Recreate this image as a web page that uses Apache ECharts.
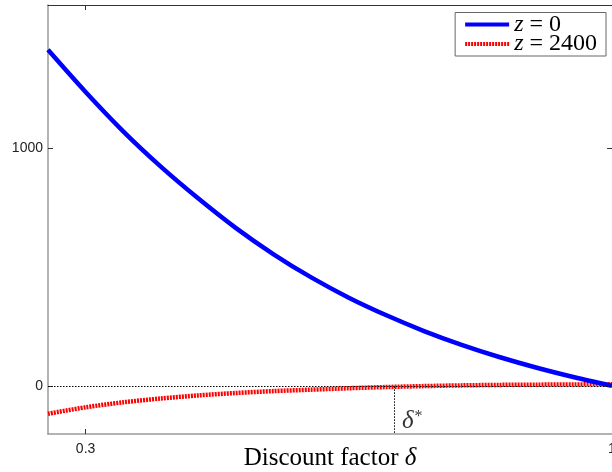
<!DOCTYPE html>
<html><head><meta charset="utf-8">
<script src="https://cdn.jsdelivr.net/npm/echarts@6/dist/echarts.min.js"></script>
<style>html,body{margin:0;padding:0;background:#fff}#c{width:612px;height:472px}</style>
</head><body><div id="c"></div>
<script>
const deltas = [0.25,0.30,0.35,0.40,0.45,0.50,0.55,0.60,0.65,0.70,0.75,0.80,0.85,0.90,0.95,1.00];
const valuesZ0 = [1412,1235,1070,922,788,664,554,457,372,298,232,174,123,78,38,2];
const valuesZ2400 = [-115,-88,-67,-51,-38,-28,-20,-14,-8,-3,1,4,6,7,8,9];
const seriesNames = ['z = 0', 'z = 2400'];
const xTicks = [0.3, 1];
const yTicks = [0, 1000];
const xRange = [0.25, 1];
const yRange = [-200, 1600];
const deltaStar = 0.71;
const deltaStarLabelY = -147;

const chart = echarts.init(document.getElementById('c'), null, {renderer: 'canvas'});
const sans = 'Liberation Sans';
const serif = 'Liberation Serif';
const grayAxis = {show: true, onZero: false, lineStyle: {color: '#9a9a9a', width: 1.5}};
const darkAxis = {show: true, onZero: false, lineStyle: {color: '#333', width: 1}};
const tick = (vals, color) => ({show: true, inside: true, length: 5, customValues: vals, lineStyle: {color: color, width: 1}});

chart.setOption({
  animation: false,
  backgroundColor: '#fff',
  grid: {left: 48, right: 0, top: 5, bottom: 38, containLabel: false, outerBoundsMode: 'none'},
  legend: {
    data: seriesNames,
    orient: 'vertical',
    right: 6, top: 12.5,
    backgroundColor: '#fff',
    borderColor: '#666', borderWidth: 1,
    padding: [0, 9, 0, 8],
    itemWidth: 44, itemHeight: 18, itemGap: -4.5,
    itemStyle: {opacity: 0},
    lineStyle: {width: 4},
    formatter: name => '{i|z}{n|' + name.slice(1) + '}',
    textStyle: {
      color: '#000',
      rich: {
        i: {fontFamily: serif, fontStyle: 'italic', fontSize: 24, color: '#000'},
        n: {fontFamily: serif, fontSize: 24, color: '#000'}
      }
    }
  },
  xAxis: [{
    type: 'value', position: 'bottom', min: xRange[0], max: xRange[1],
    axisLine: grayAxis, splitLine: {show: false},
    axisTick: tick(xTicks, '#333'),
    axisLabel: {customValues: xTicks, margin: 8, fontFamily: sans, fontSize: 14, color: '#222',
      formatter: v => String(v)},
    name: '{n|Discount factor }{i|δ}', nameLocation: 'middle', nameGap: 12,
    nameMoveOverlap: false,
    nameTextStyle: {rich: {
      n: {fontFamily: serif, fontSize: 25, color: '#000'},
      i: {fontFamily: serif, fontStyle: 'italic', fontSize: 25, color: '#000'}
    }}
  }, {
    type: 'value', position: 'top', min: xRange[0], max: xRange[1],
    axisLine: darkAxis, splitLine: {show: false},
    axisTick: tick(xTicks, '#333'), axisLabel: {show: false}
  }],
  yAxis: [{
    type: 'value', position: 'left', min: yRange[0], max: yRange[1],
    axisLine: grayAxis, splitLine: {show: false},
    axisTick: tick(yTicks, '#333'),
    axisLabel: {customValues: yTicks, margin: 5, fontFamily: sans, fontSize: 14, color: '#222',
      formatter: v => String(v)}
  }, {
    type: 'value', position: 'right', min: yRange[0], max: yRange[1],
    axisLine: darkAxis, splitLine: {show: false},
    axisTick: tick(yTicks, '#333'), axisLabel: {show: false}
  }],
  series: [{
    name: seriesNames[0], type: 'line', symbol: 'none', smooth: 0.3,
    data: deltas.map((d, i) => [d, valuesZ0[i]]),
    lineStyle: {color: '#0000ff', width: 4.5},
    itemStyle: {color: '#0000ff'}, z: 4
  }, {
    name: seriesNames[1], type: 'line', symbol: 'none', smooth: 0.3,
    data: deltas.map((d, i) => [d, valuesZ2400[i]]),
    lineStyle: {color: '#ff0000', width: 4.5, type: [2, 1]},
    itemStyle: {color: '#ff0000'}, z: 3,
    markLine: {
      silent: true, symbol: 'none', animation: false,
      label: {show: false},
      lineStyle: {color: '#000', width: 1, type: [1.5, 1.5]},
      data: [
        {yAxis: 0},
        [{coord: [deltaStar, 0]}, {coord: [deltaStar, yRange[0]]}]
      ]
    }
  }, {
    name: 'deltaStar', type: 'scatter', symbolSize: 0,
    data: [[deltaStar, deltaStarLabelY]],
    label: {show: true, position: 'right', distance: 8,
      formatter: '{d|δ}{s|*}',
      rich: {
        d: {fontFamily: serif, fontStyle: 'italic', fontSize: 25, color: '#000'},
        s: {fontFamily: serif, fontSize: 16, color: '#000', verticalAlign: 'top', padding: [0, 0, 10, 1]}
      }
    }
  }]
});
</script>
</body></html>
